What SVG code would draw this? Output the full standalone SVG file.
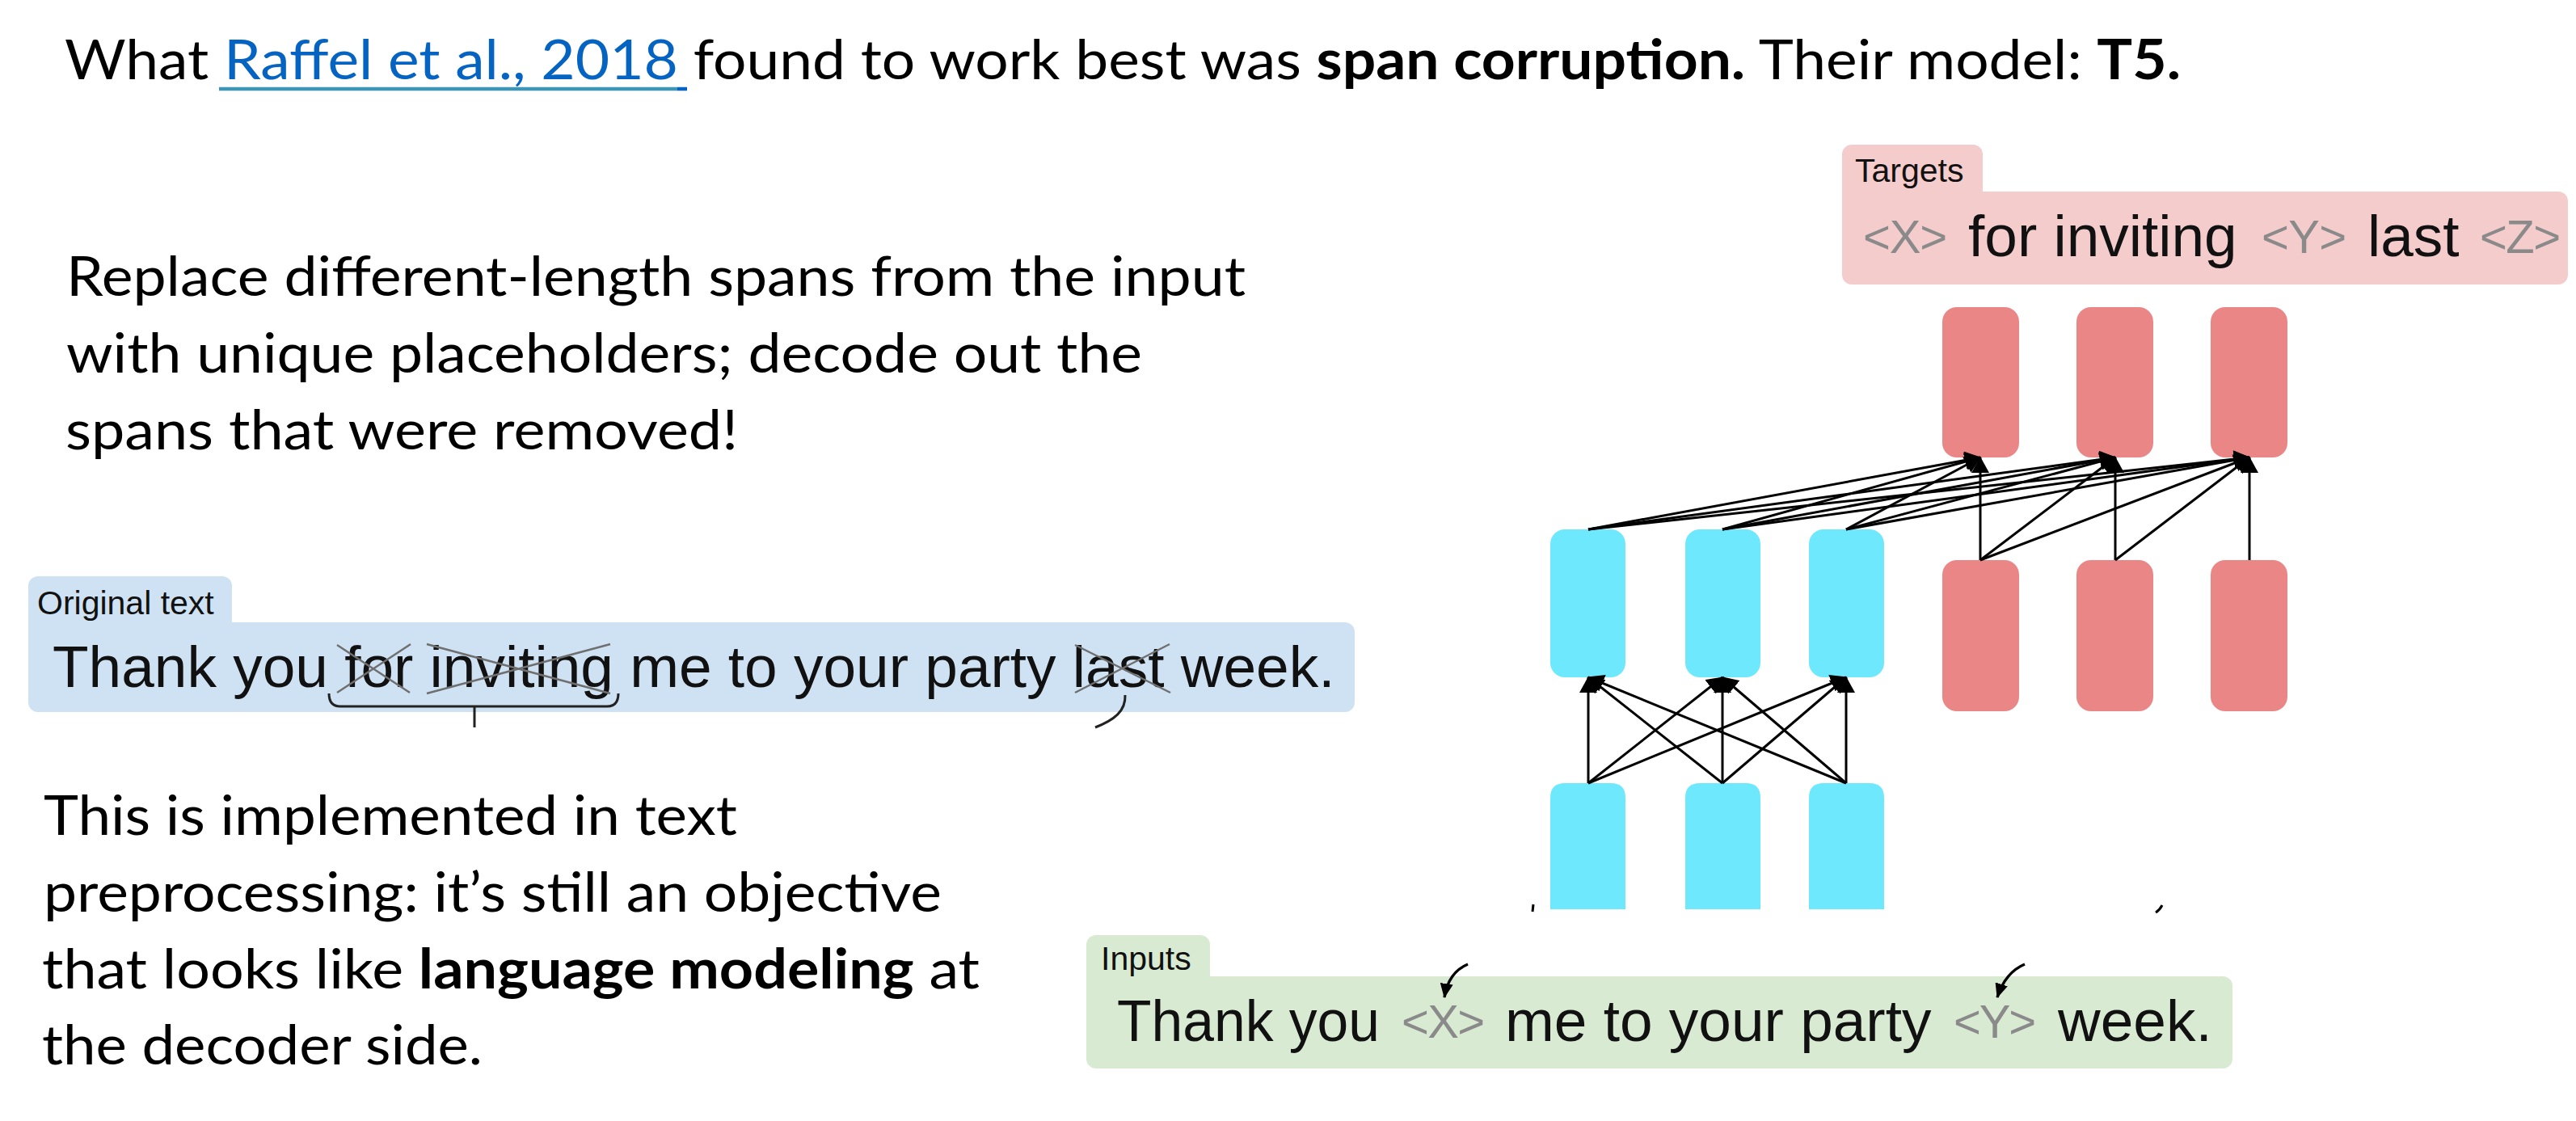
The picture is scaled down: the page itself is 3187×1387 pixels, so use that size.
<svg xmlns="http://www.w3.org/2000/svg" width="3187" height="1387" viewBox="0 0 3187 1387">
<style>
.cal{font-family:Lato,"Liberation Sans",sans-serif;font-size:68px;fill:#000}
.b{font-weight:bold}
.hv{font-family:"Liberation Sans",Arial,Helvetica,sans-serif;fill:#111}
.lbl{font-size:41px}
.big{font-size:73px}
.ph{font-size:58px;fill:#8a8a8a}
.cy{fill:#6EE8FD}
.rd{fill:#EB8686}
.conn line,.conn path{stroke:#000;stroke-width:3;fill:none}
.conn .thick{stroke-width:3.5}
.xm{stroke:#6f6f6f;stroke-width:2.5;fill:none}
.br{stroke:#222;stroke-width:3;fill:none}
</style>
<defs>
<marker id="ah" viewBox="0 0 20 22" markerWidth="20" markerHeight="22" refX="19" refY="11" orient="auto" markerUnits="userSpaceOnUse">
<path d="M0,0 L20,11 L0,22 Z" fill="#000"/>
</marker>
<marker id="ahs" viewBox="0 0 18 16" markerWidth="18" markerHeight="16" refX="17" refY="8" orient="auto" markerUnits="userSpaceOnUse">
<path d="M0,0 L18,8 L0,16 Z" fill="#000"/>
</marker>
</defs>
<rect width="3187" height="1387" fill="#fff"/>

<g id="title">
<text class="cal" x="80" y="98" textLength="2618" lengthAdjust="spacingAndGlyphs">What <tspan fill="#0563C1">Raffel et al., 2018 </tspan>found to work best was <tspan class="b">span corruption.</tspan> Their model: <tspan class="b">T5.</tspan></text>
<line x1="271" y1="110" x2="838" y2="110" stroke="#3E96B6" stroke-width="4.5"/>
<line x1="838" y1="110" x2="850" y2="110" stroke="#0563C1" stroke-width="4.5"/>
</g>

<g id="para1">
<text class="cal" x="82" y="366" textLength="1459" lengthAdjust="spacingAndGlyphs">Replace different-length spans from the input</text>
<text class="cal" x="82" y="461" textLength="1331" lengthAdjust="spacingAndGlyphs">with unique placeholders; decode out the</text>
<text class="cal" x="81" y="556" textLength="832" lengthAdjust="spacingAndGlyphs">spans that were removed!</text>
</g>

<g id="para2">
<text class="cal" x="54" y="1033" textLength="858" lengthAdjust="spacingAndGlyphs">This is implemented in text</text>
<text class="cal" x="54" y="1128" textLength="1111" lengthAdjust="spacingAndGlyphs">preprocessing: it’s still an objective</text>
<text class="cal" x="52" y="1223" textLength="1160" lengthAdjust="spacingAndGlyphs">that looks like <tspan class="b">language modeling</tspan> at</text>
<text class="cal" x="52" y="1317" textLength="545" lengthAdjust="spacingAndGlyphs">the decoder side.</text>
</g>

<g id="original-text">
<rect x="35" y="713" width="252" height="90" rx="12" fill="#CFE2F3"/>
<rect x="35" y="770" width="1641" height="111" rx="12" fill="#CFE2F3"/>
<text class="hv lbl" x="46" y="760">Original text</text>
<text class="hv big" x="65" y="850">Thank you for inviting me to your party last week.</text>
<path class="xm" d="M417,798 L507,857 M417,857 L508,797"/>
<path class="xm" d="M528,797 L755,858 M528,858 L755,797"/>
<path class="xm" d="M1330,798 L1448,857 M1330,857 L1447,797"/>
<path class="br" d="M407,858 Q407,874 421,874 H751 Q765,874 765,858 M587,874 V900"/>
<path class="br" d="M1392,860 C1393,880 1378,891 1355,900"/>
</g>

<g id="targets">
<rect x="2279" y="179" width="174" height="90" rx="12" fill="#F4CCCC"/>
<rect x="2279" y="237" width="898" height="115" rx="12" fill="#F4CCCC"/>
<text class="hv lbl" x="2295" y="225">Targets</text>
<text class="hv ph" x="2305" y="313" textLength="104" lengthAdjust="spacing">&lt;X&gt;</text>
<text class="hv big" x="2435" y="317">for inviting</text>
<text class="hv ph" x="2798" y="313" textLength="105" lengthAdjust="spacing">&lt;Y&gt;</text>
<text class="hv big" x="2929" y="317">last</text>
<text class="hv ph" x="3068" y="313" textLength="100" lengthAdjust="spacing">&lt;Z&gt;</text>
</g>

<g id="inputs">
<rect x="1344" y="1157" width="153" height="90" rx="12" fill="#D9EAD3"/>
<rect x="1344" y="1208" width="1418" height="114" rx="12" fill="#D9EAD3"/>
<text class="hv lbl" x="1362" y="1200">Inputs</text>
<text class="hv big" x="1382" y="1288" textLength="325" lengthAdjust="spacingAndGlyphs">Thank you</text>
<text class="hv ph" x="1734" y="1284" textLength="103" lengthAdjust="spacing">&lt;X&gt;</text>
<text class="hv big" x="1862" y="1288">me to your party</text>
<text class="hv ph" x="2417" y="1284" textLength="102" lengthAdjust="spacing">&lt;Y&gt;</text>
<text class="hv big" x="2546" y="1288">week.</text>
</g>

<g id="enc-in-1"><path class="cy" d="M1918,1125 V987 Q1918,969 1936,969 H1993 Q2011,969 2011,987 V1125 Z"/></g>
<g id="enc-in-2"><path class="cy" d="M2085,1125 V987 Q2085,969 2103,969 H2160 Q2178,969 2178,987 V1125 Z"/></g>
<g id="enc-in-3"><path class="cy" d="M2238,1125 V987 Q2238,969 2256,969 H2313 Q2331,969 2331,987 V1125 Z"/></g>

<g id="enc-h-1"><rect class="cy" x="1918" y="655" width="93" height="183" rx="18"/></g>
<g id="enc-h-2"><rect class="cy" x="2085" y="655" width="93" height="183" rx="18"/></g>
<g id="enc-h-3"><rect class="cy" x="2238" y="655" width="93" height="183" rx="18"/></g>

<g id="dec-in-1"><rect class="rd" x="2403" y="693" width="95" height="187" rx="18"/></g>
<g id="dec-in-2"><rect class="rd" x="2569" y="693" width="95" height="187" rx="18"/></g>
<g id="dec-in-3"><rect class="rd" x="2735" y="693" width="95" height="187" rx="18"/></g>

<g id="dec-out-1"><rect class="rd" x="2403" y="380" width="95" height="186" rx="18"/></g>
<g id="dec-out-2"><rect class="rd" x="2569" y="380" width="95" height="186" rx="18"/></g>
<g id="dec-out-3"><rect class="rd" x="2735" y="380" width="95" height="186" rx="18"/></g>

<g id="connectors" class="conn">
<line x1="1965" y1="969" x2="1965" y2="838" marker-end="url(#ah)"/>
<line x1="1965" y1="969" x2="2131" y2="838" marker-end="url(#ah)"/>
<line x1="1965" y1="969" x2="2284" y2="838" marker-end="url(#ah)"/>
<line x1="2131" y1="969" x2="1965" y2="838" marker-end="url(#ah)"/>
<line x1="2131" y1="969" x2="2131" y2="838" marker-end="url(#ah)"/>
<line x1="2131" y1="969" x2="2284" y2="838" marker-end="url(#ah)"/>
<line x1="2284" y1="969" x2="1965" y2="838" marker-end="url(#ah)"/>
<line x1="2284" y1="969" x2="2131" y2="838" marker-end="url(#ah)"/>
<line x1="2284" y1="969" x2="2284" y2="838" marker-end="url(#ah)"/>

<line x1="1965" y1="655" x2="2450" y2="566" marker-end="url(#ah)"/>
<line x1="1965" y1="655" x2="2617" y2="566" marker-end="url(#ah)"/>
<line x1="1965" y1="655" x2="2783" y2="566" marker-end="url(#ah)"/>
<line x1="2131" y1="655" x2="2450" y2="566" marker-end="url(#ah)"/>
<line x1="2131" y1="655" x2="2617" y2="566" marker-end="url(#ah)"/>
<line x1="2131" y1="655" x2="2783" y2="566" marker-end="url(#ah)"/>
<line x1="2284" y1="655" x2="2450" y2="566" marker-end="url(#ah)"/>
<line x1="2284" y1="655" x2="2617" y2="566" marker-end="url(#ah)"/>
<line x1="2284" y1="655" x2="2783" y2="566" marker-end="url(#ah)"/>

<line x1="2450" y1="693" x2="2450" y2="566" marker-end="url(#ah)"/>
<line x1="2450" y1="693" x2="2617" y2="566" marker-end="url(#ah)"/>
<line x1="2450" y1="693" x2="2783" y2="566" marker-end="url(#ah)"/>
<line x1="2617" y1="693" x2="2617" y2="566" marker-end="url(#ah)"/>
<line x1="2617" y1="693" x2="2783" y2="566" marker-end="url(#ah)"/>
<line x1="2783" y1="693" x2="2783" y2="566" marker-end="url(#ah)"/>

<path class="thick" d="M1816,1193 Q1792,1203 1787,1234" marker-end="url(#ahs)"/>
<path class="thick" d="M2505,1193 Q2481,1203 2471,1234" marker-end="url(#ahs)"/>
<path d="M1897,1119 L1896,1128"/>
<path d="M2675,1120 Q2672,1126 2667,1129"/>
</g>
</svg>
